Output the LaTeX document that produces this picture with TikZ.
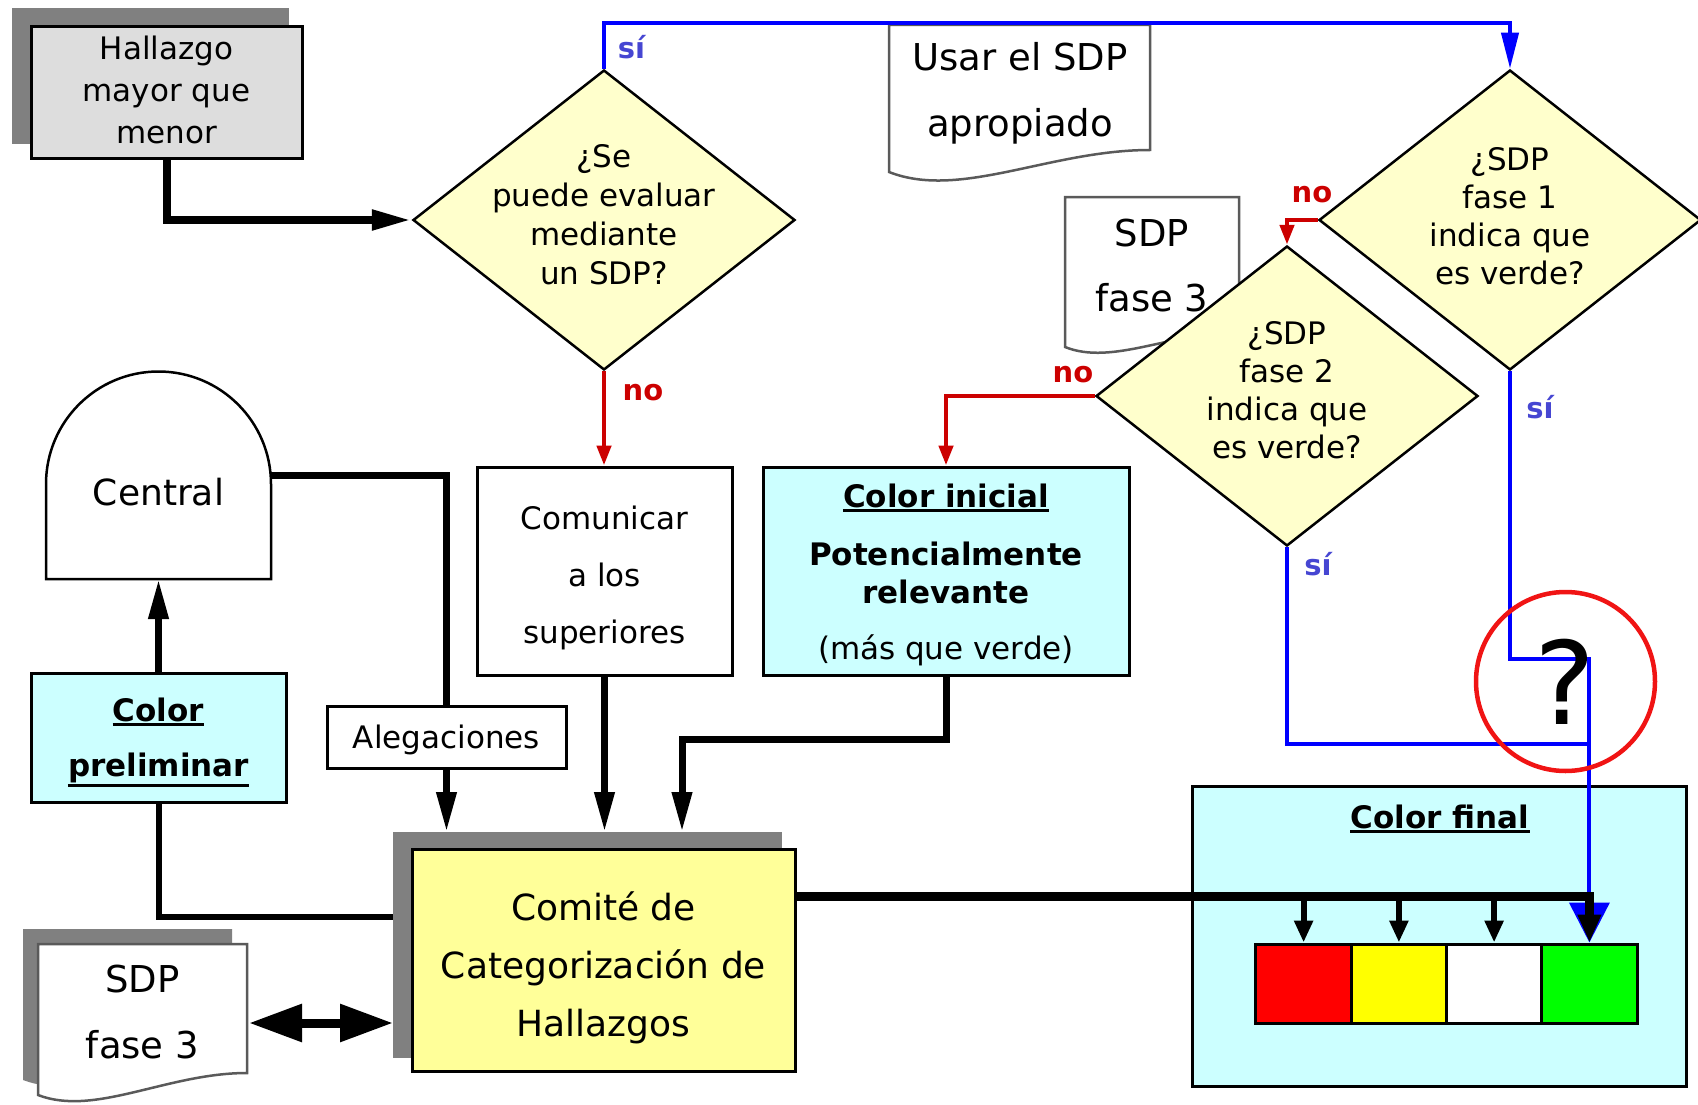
\documentclass[tikz,border=0pt]{standalone}
\usepackage{fontspec}
\setmainfont{DejaVu Sans}
\usetikzlibrary{arrows.meta,shapes.geometric}
\definecolor{shgray}{RGB}{128,128,128}
\definecolor{hallfill}{RGB}{221,221,221}
\definecolor{diafill}{RGB}{255,255,204}
\definecolor{comfill}{RGB}{255,255,153}
\definecolor{cyanfill}{RGB}{204,255,255}
\definecolor{blueln}{RGB}{0,0,255}
\definecolor{redln}{RGB}{204,0,0}
\definecolor{silbl}{RGB}{70,70,210}
\definecolor{nored}{RGB}{204,0,0}
\definecolor{docgray}{RGB}{90,90,90}
\definecolor{circred}{RGB}{240,20,20}
\definecolor{cred}{RGB}{255,0,0}
\definecolor{cyel}{RGB}{255,255,0}
\definecolor{cgrn}{RGB}{0,255,0}
\newcommand\fsNorm{\fontsize{31}{38}\selectfont}
\newcommand\fsBig{\fontsize{36}{43}\selectfont}
\newcommand\fsLab{\fontsize{29}{35}\selectfont}
\tikzset{
  shbox/.style={fill=shgray, draw=none, inner sep=0pt, outer sep=0pt},
  bx/.style={draw=black, line width=3pt, inner sep=0pt, align=center, font=\fsNorm},
  dia/.style={shape=diamond, draw=black, line width=2.5pt, fill=diafill, inner sep=0pt, minimum width=382pt, minimum height=300pt},
  txt/.style={inner sep=0pt, align=center, font=\fsNorm},
  ptxt/.style={inner sep=0pt, font=\fsNorm},
  btxt/.style={inner sep=0pt, font=\fsNorm\bfseries},
  docshape/.style={draw=docgray, line width=2.5pt, fill=white},
  conn/.style={draw=black, line width=7pt},
  tipbig/.style={-{Triangle[length=40pt,width=19pt]}},
  bln/.style={draw=blueln, line width=4pt},
  rln/.style={draw=redln, line width=4.5pt, -{Triangle[length=20pt,width=14pt]}},
  silab/.style={inner sep=0pt, text=silbl, font=\fsLab\bfseries},
  nolab/.style={inner sep=0pt, text=nored, font=\fsLab\bfseries},
  ulne/.style={line width=3pt, draw=black},
  swatch/.style={draw=black, line width=3pt, inner sep=0pt, minimum width=95.25pt, minimum height=79pt},
}
\begin{document}
\begin{tikzpicture}[x=1pt,y=-1pt]
\useasboundingbox (0,0) rectangle (1698,1105);

% ---------- Hallazgo
\node[shbox, minimum width=277pt, minimum height=136pt] (hallsh) at (150.5,76) {};
\node[bx, fill=hallfill, minimum width=271pt, minimum height=132pt] (hallazgo) at (166.5,93) {};
\node[txt, font=\fontsize{31}{42}\selectfont] (halltxt) at (166.5,90) {Hallazgo\\mayor que\\menor};

% ---------- documents (top)
\draw[docshape] (889,172) -- (889,25) -- (1150,25) -- (1150,150) .. controls (1050,150) and (960,200) .. (889,172) -- cycle;
\node[txt, font=\fontsize{37}{66}\selectfont] (usartxt) at (1020,93) {Usar el SDP\\apropiado};
\draw[docshape] (1065,347) -- (1065,197) -- (1239,197) -- (1239,332) .. controls (1172,332) and (1112,366) .. (1065,347) -- cycle;
\node[txt, font=\fontsize{37}{65}\selectfont] (sdpatxt) at (1152,266) {SDP\\fase 3};

% ---------- diamonds
\node[dia] (d1) at (604,220) {};
\node[txt, font=\fontsize{31}{39}\selectfont] (d1txt) at (604,215) {¿Se\\puede evaluar\\mediante\\un SDP?};
\node[dia] (d2) at (1510,220) {};
\node[txt] (d2txt) at (1510,216) {¿SDP\\fase 1\\indica que\\es verde?};
\node[dia] (d3) at (1287,396) {};
\node[txt] (d3txt) at (1287,390) {¿SDP\\fase 2\\indica que\\es verde?};

% ---------- Central
\node[inner sep=0pt, outer sep=0pt, minimum width=225pt, minimum height=207pt] (central) at (158.5,475.5) {};
\draw[draw=black, line width=2.5pt, fill=white] (central.south west) -- ++(0,-95) arc[start angle=180,end angle=360,radius=112.5] -- (central.south east) -- cycle;
\node[inner sep=0pt, font=\fsBig, anchor=base] (centraltxt) at (158.5,505) {Central};

% ---------- Color preliminar
\node[bx, fill=cyanfill, minimum width=255pt, minimum height=129pt] (colprel) at (158.5,737.5) {};
\node[btxt, anchor=base] (cp1) at (158.5,721) {Color};
\node[btxt, anchor=base] (cp2) at (158.5,776) {preliminar};
\draw[ulne] ([yshift=-3pt]cp1.south west) -- ([yshift=-3pt]cp1.south east);
\draw[ulne] ([yshift=-3pt]cp2.south west) -- ([yshift=-3pt]cp2.south east);

% ---------- Alegaciones, Comunicar
\node[bx, fill=white, minimum width=239pt, minimum height=62pt, text height=23.6pt, text depth=1.6pt] (alegaciones) at (446.5,737) {Alegaciones};
\node[bx, fill=white, minimum width=255pt, minimum height=208pt] (comunicar) at (604.5,571) {};
\node[txt, font=\fontsize{31}{57}\selectfont] (comtx) at (604.5,577.5) {Comunicar\\a los\\superiores};

% ---------- Color inicial
\node[bx, fill=cyanfill, minimum width=366pt, minimum height=208pt] (colini) at (946,571) {};
\node[btxt, anchor=base] (ci1) at (946,507) {Color inicial};
\node[btxt, anchor=base] (ci2) at (946,565) {Potencialmente};
\node[btxt, anchor=base] (ci3) at (946,603) {relevante};
\node[ptxt, anchor=base] (ci4) at (946,659) {(más que verde)};
\draw[ulne] ([yshift=-3pt]ci1.south west) -- ([yshift=-3pt]ci1.south east);

% ---------- Comite
\node[shbox, minimum width=389pt, minimum height=226pt] (comsh) at (587.5,945) {};
\node[bx, fill=comfill, minimum width=383pt, minimum height=222pt] (comite) at (603.5,960) {};
\node[txt, font=\fontsize{36}{58}\selectfont] (comtxt) at (603.5,968) {Comité de\\Categorización de\\Hallazgos};

% ---------- lower document
\fill[shgray] (23,1080) -- (23,929) -- (232,929) -- (232,1058) .. controls (152,1058) and (80,1102) .. (23,1080) -- cycle;
\draw[docshape] (38,1095) -- (38,944) -- (247,944) -- (247,1073) .. controls (167,1073) and (95,1117) .. (38,1095) -- cycle;
\node[txt, font=\fontsize{37}{66}\selectfont] (sdpbtxt) at (142.5,1012) {SDP\\fase 3};

% ---------- Color final
\node[bx, fill=cyanfill, minimum width=494pt, minimum height=300pt] (colfinal) at (1439,936) {};
\node[btxt, anchor=base] (cftxt) at (1440,828) {Color final};
\draw[ulne] ([yshift=-3pt]cftxt.south west) -- ([yshift=-3pt]cftxt.south east);
\node[swatch, fill=cred] (sred) at (1303.6,983.5) {};
\node[swatch, fill=cyel] (syel) at (1398.9,983.5) {};
\node[swatch, fill=white] (swht) at (1494.1,983.5) {};
\node[swatch, fill=cgrn] (sgrn) at (1589.4,983.5) {};

% ---------- helper coordinates
\coordinate (toprow) at (0,23);
\coordinate (jA) at (1589.4,659);
\coordinate (jB) at (1589.4,744);
\coordinate (bar) at (1589.4,896);
\coordinate (cibend) at (682,739);
\coordinate (cpend) at (393,917);
\coordinate (dblL) at (249,1023);

% ---------- black connectors
\draw[conn, line width=8pt, tipbig] (hallazgo.south) |- (d1.west);
\draw[conn] (central.east) -| (alegaciones.north);
\draw[conn, tipbig] (alegaciones.south) -- (alegaciones.south |- comsh.north);
\draw[conn, tipbig] (comunicar.south) -- (comunicar.south |- comsh.north);
\draw[conn, tipbig] (colini.south) |- (cibend) -- (cibend |- comsh.north);
\draw[conn, tipbig] (colprel.north) -- (central.south);
\draw[conn, line width=6pt] (colprel.south) |- (cpend);
\draw[conn, line width=9pt, {Triangle[length=53pt,width=36pt]}-{Triangle[length=53pt,width=36pt]}] (dblL) -- (dblL -| comsh.west);

% ---------- blue connectors
\draw[bln, -{Triangle[length=36pt,width=17pt]}] (d1.north) -- (d1.north |- toprow) -| (d2.north);
\draw[bln, -{Triangle[length=40pt,width=40pt]}] (d2.south) |- (jA) -- (sgrn.north);
\draw[bln] (d3.south) |- (jB);

% ---------- bar to colours
\draw[conn, line width=9pt, -{Triangle[length=28pt,width=22pt]}] (comite.east |- bar) -| (sgrn.north);
\foreach \s in {sred,syel,swht}
  \draw[conn, line width=6pt, -{Triangle[length=22pt,width=18pt]}] (\s.north |- bar) -- (\s.north);

% ---------- red connectors
\draw[rln] (d1.south) -- (d1.south |- comunicar.north);
\draw[rln] (d2.west) -| (d3.north);
\draw[rln] (d3.west) -| (colini.north);

% ---------- question circle
\node[circle, draw=circred, line width=4.5pt, minimum size=179pt, inner sep=0pt, font=\fontsize{115}{115}\selectfont] (qcircle) at (1565.5,681.5) {?};

% ---------- labels
\node[silab, anchor=base] (si1) at (631.5,59) {sí};
\node[nolab, anchor=base] (no1) at (643,400) {no};
\node[nolab, anchor=base] (no2) at (1312,203) {no};
\node[nolab, anchor=base] (no3) at (1073,382) {no};
\node[silab, anchor=base] (si2) at (1540,418) {sí};
\node[silab, anchor=base] (si3) at (1318,575) {sí};
\end{tikzpicture}
\end{document}
